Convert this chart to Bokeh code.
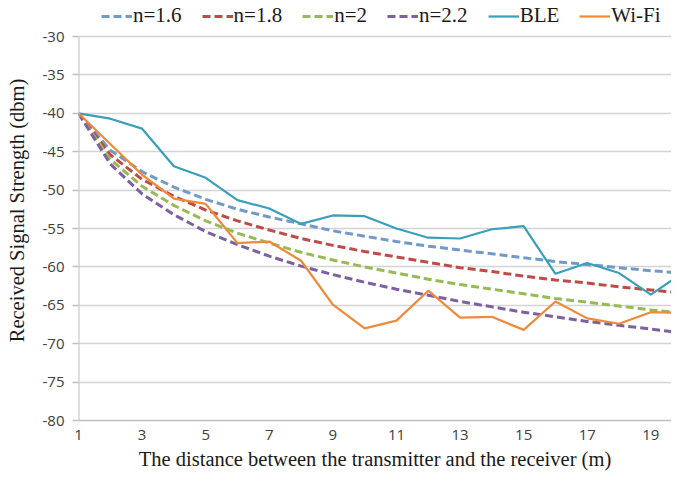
from bokeh.plotting import figure
from bokeh.models import Range1d, FixedTicker, Legend, LegendItem, CustomJSTickFormatter
from bokeh.embed import file_html
from bokeh.resources import INLINE

distance = list(range(1, 21))
n16 = [-40, -44.8, -47.6, -49.6, -51.2, -52.5, -53.5, -54.4, -55.3, -56.0,
       -56.7, -57.3, -57.8, -58.3, -58.8, -59.3, -59.7, -60.1, -60.5, -60.8]
n18 = [-40, -45.4, -48.6, -50.8, -52.6, -54.0, -55.2, -56.3, -57.2, -58.0,
       -58.7, -59.4, -60.1, -60.6, -61.2, -61.7, -62.1, -62.6, -63.0, -63.4]
n20 = [-40, -46.0, -49.5, -52.0, -54.0, -55.6, -56.9, -58.1, -59.1, -60.0,
       -60.8, -61.6, -62.3, -62.9, -63.5, -64.1, -64.6, -65.1, -65.6, -66.0]
n22 = [-40, -46.6, -50.5, -53.2, -55.4, -57.1, -58.6, -59.9, -61.0, -62.0,
       -62.9, -63.7, -64.5, -65.2, -65.9, -66.5, -67.1, -67.6, -68.1, -68.6]
ble = [-40, -40.7, -42.0, -46.9, -48.4, -51.3, -52.4, -54.4, -53.3, -53.4,
       -55.0, -56.2, -56.3, -55.1, -54.7, -60.9, -59.5, -60.8, -63.6, -60.8]
wifi = [-40, -44.0, -48.0, -51.1, -51.8, -56.9, -56.7, -59.2, -64.9, -68.0,
        -67.0, -63.1, -66.6, -66.5, -68.2, -64.5, -66.7, -67.4, -65.9, -66.0]
x_ticks = [1, 3, 5, 7, 9, 11, 13, 15, 17, 19]
y_ticks = [-80, -75, -70, -65, -60, -55, -50, -45, -40, -35, -30]
y_min, y_max = -80, -30

# frame extends above the top gridline to leave room for the legend
p = figure(width=671, height=472, output_backend="svg", toolbar_location=None,
           x_range=Range1d(1, 19.65), y_range=Range1d(y_min, -25.31),
           min_border_left=78, min_border_right=0, min_border_top=0,
           min_border_bottom=52)
p.outline_line_color = None
p.background_fill_color = "white"

series = [
    ("n=1.6", n16, "#7399c6", "dashed"),
    ("n=1.8", n18, "#be4b48", "dashed"),
    ("n=2", n20, "#98b954", "dashed"),
    ("n=2.2", n22, "#7d60a0", "dashed"),
    ("BLE", ble, "#3a9fb8", "solid"),
    ("Wi-Fi", wifi, "#ee8a3a", "solid"),
]
items = []
for name, ys, col, style in series:
    if style == "dashed":
        r = p.line(distance, ys, line_color=col, line_width=3, line_dash="8 4")
    else:
        r = p.line(distance, ys, line_color=col, line_width=2.2)
    items.append(LegendItem(label=name, renderers=[r]))

# left axis line only spanning the value range
p.segment(x0=[distance[0]], y0=[y_min], x1=[distance[0]], y1=[y_max],
          line_color="#bfbfbf", line_width=2)

legend = Legend(items=items, orientation="horizontal", location=(23, 392),
                label_text_font="Liberation Serif", label_text_font_size="21px",
                label_text_color="#1a1a1a", glyph_width=31, glyph_height=20,
                label_height=20, label_standoff=1, spacing=20, padding=0, margin=0,
                border_line_color=None, background_fill_alpha=0)
p.add_layout(legend)

p.xaxis.ticker = FixedTicker(ticks=x_ticks)
p.yaxis.ticker = FixedTicker(ticks=y_ticks)
p.yaxis.formatter = CustomJSTickFormatter(code="return tick.toString();")
p.xgrid.grid_line_color = None
p.ygrid.grid_line_color = "#d4d4d4"
p.ygrid.grid_line_width = 1.5

for ax in (p.xaxis, p.yaxis):
    ax.axis_line_color = "#bfbfbf"
    ax.axis_line_width = 1.5
    ax.minor_tick_line_color = None
    ax.major_label_text_font = "Open Sans"
    ax.major_label_text_font_size = "15px"
    ax.major_label_text_color = "#404040"
    ax.axis_label_text_font = "Liberation Serif"
    ax.axis_label_text_font_size = "20.5px"
    ax.axis_label_text_font_style = "normal"
    ax.axis_label_text_color = "#1a1a1a"

p.yaxis.axis_line_color = None

p.xaxis.major_tick_line_color = None
p.xaxis.major_tick_out = 0
p.xaxis.major_label_standoff = 9
p.xaxis.axis_label = "The distance between the transmitter and the receiver (m)"
p.xaxis.axis_label_standoff = 5

p.yaxis.major_tick_line_color = "#bfbfbf"
p.yaxis.major_tick_line_width = 1.5
p.yaxis.major_tick_in = 0
p.yaxis.major_tick_out = 6
p.yaxis.major_label_standoff = 8
p.yaxis.axis_label = "Received Signal Strength (dbm)"
p.yaxis.axis_label_standoff = 12

open("out.html", "w").write(file_html(p, INLINE))
